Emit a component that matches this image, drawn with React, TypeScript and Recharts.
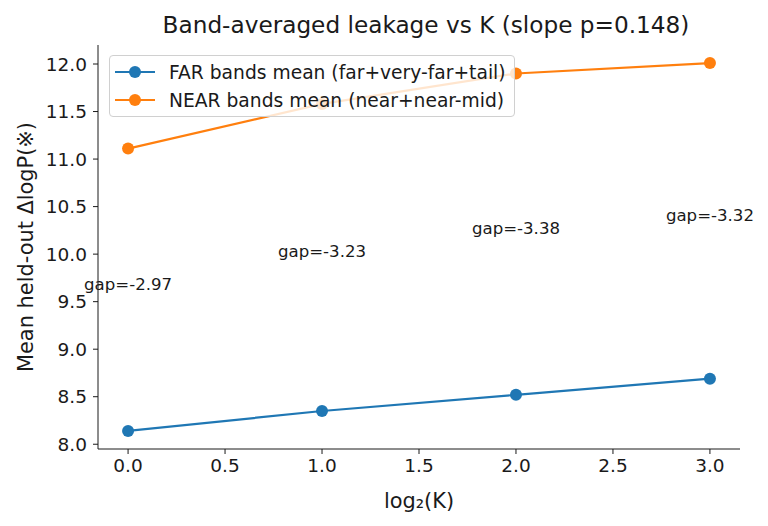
import { LineChart, Line, XAxis, YAxis, Legend, LabelList } from 'recharts'

const logK = [0, 1, 2, 3]
const farMean = [8.14, 8.35, 8.52, 8.69]
const nearMean = [11.11, 11.58, 11.9, 12.01]
const xTicks = [0, 0.5, 1, 1.5, 2, 2.5, 3]
const yTicks = [8, 8.5, 9, 9.5, 10, 10.5, 11, 11.5, 12]

const seriesNames = [
  'FAR bands mean (far+very-far+tail)',
  'NEAR bands mean (near+near-mid)',
]
const seriesColors = ['#1f77b4', '#ff7f0e']

const data = logK.map((x, i) => ({
  x,
  far: farMean[i],
  near: nearMean[i],
  mid: (farMean[i] + nearMean[i]) / 2,
  gap: farMean[i] - nearMean[i],
}))

const ink = '#1a1a1a'
const font = '"DejaVu Sans", sans-serif'
const tickFs = 18.5
const labelFs = 20.9

function GapLabel(props: any) {
  const { x, y, value } = props
  return (
    <text x={x} y={y} textAnchor="middle" fontSize={16.6} fill={ink}>
      {`gap=${Number(value).toFixed(2)}`}
    </text>
  )
}

function LegendBox() {
  return (
    <div
      style={{
        background: 'rgba(255,255,255,0.8)',
        border: '1px solid #d0d0d0',
        borderRadius: 4,
        padding: '2px 8px 2px 5px',
        fontSize: 18.7,
        color: ink,
        fontFamily: font,
        whiteSpace: 'nowrap',
      }}
    >
      {seriesNames.map((name, i) => (
        <div key={name} style={{ display: 'flex', alignItems: 'center', height: 28 }}>
          <svg width={40} height={14} style={{ marginRight: 14 }}>
            <line x1={0} y1={7} x2={40} y2={7} stroke={seriesColors[i]} strokeWidth={2.2} />
            <circle cx={20} cy={7} r={6} fill={seriesColors[i]} />
          </svg>
          <span>{name}</span>
        </div>
      ))}
    </div>
  )
}

export default function App() {
  return (
    <div
      style={{
        position: 'absolute',
        left: 0,
        top: 0,
        width: 768,
        height: 526,
        background: '#fff',
        fontFamily: font,
      }}
    >
      <div
        style={{
          position: 'absolute',
          left: 98,
          width: 656,
          top: 11,
          textAlign: 'center',
          fontSize: 23.2,
          color: ink,
          whiteSpace: 'nowrap',
        }}
      >
        Band-averaged leakage vs K (slope p=0.148)
      </div>
      <LineChart
        width={768}
        height={526}
        data={data}
        margin={{ top: 45, right: 28, bottom: 17, left: 0 }}
      >
        <XAxis
          type="number"
          dataKey="x"
          domain={[-0.155, 3.155]}
          ticks={xTicks}
          allowDataOverflow
          tickFormatter={(v: number) => v.toFixed(1)}
          tickSize={5}
          tickMargin={5}
          height={60}
          stroke={ink}
          tick={{ fill: ink, fontSize: tickFs }}
          label={{ value: 'log₂(K)', position: 'insideBottom', offset: 1, fill: ink, fontSize: labelFs }}
        />
        <YAxis
          type="number"
          domain={[7.95, 12.2]}
          ticks={yTicks}
          allowDataOverflow
          tickFormatter={(v: number) => v.toFixed(1)}
          tickSize={5}
          tickMargin={6}
          width={98}
          stroke={ink}
          tick={{ fill: ink, fontSize: tickFs }}
          label={{
            value: 'Mean held-out ΔlogP(※)',
            angle: -90,
            position: 'insideLeft',
            offset: 26,
            fill: ink,
            fontSize: labelFs,
            style: { textAnchor: 'middle' },
          }}
        />
        <Line
          dataKey="far"
          stroke={seriesColors[0]}
          strokeWidth={2.2}
          dot={{ r: 6, fill: seriesColors[0], stroke: 'none' }}
          activeDot={false}
          isAnimationActive={false}
        />
        <Line
          dataKey="near"
          stroke={seriesColors[1]}
          strokeWidth={2.2}
          dot={{ r: 6, fill: seriesColors[1], stroke: 'none' }}
          activeDot={false}
          isAnimationActive={false}
        />
        <Line
          dataKey="mid"
          stroke="none"
          dot={false}
          activeDot={false}
          legendType="none"
          isAnimationActive={false}
        >
          <LabelList dataKey="gap" content={GapLabel} />
        </Line>
        <Legend
          layout="vertical"
          align="center"
          verticalAlign="middle"
          content={() => <LegendBox />}
          wrapperStyle={{ top: 55, left: 109, width: 'auto' }}
        />
      </LineChart>
    </div>
  )
}
